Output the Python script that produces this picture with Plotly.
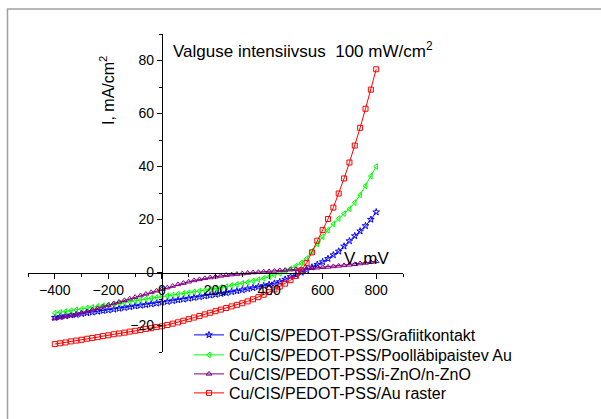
import plotly.graph_objects as go

# Bias voltage, mV (20 mV steps)
voltage = list(range(-400, 801, 20))

# Current density, mA/cm2
i_grafiit = [
    -17.0, -16.7, -16.4, -16.1, -15.9, -15.6, -15.3, -15.0, -14.7, -14.4,
    -14.2, -13.9, -13.6, -13.3, -13.0, -12.7, -12.4, -12.2, -11.9, -11.6,
    -11.3, -11.0, -10.7, -10.4, -10.1, -9.8, -9.5, -9.2, -8.9, -8.6,
    -8.3, -8.0, -7.7, -7.3, -7.0, -6.6, -6.2, -5.8, -5.4, -5.0,
    -4.6, -4.1, -3.5, -2.6, -1.6, -0.8, 0.0, 0.9, 2.0, 3.0,
    4.0, 5.2, 6.6, 8.0, 9.9, 11.9, 13.8, 15.6, 17.6, 20.0,
    22.8,
]
i_poollabi = [
    -15.3, -15.0, -14.7, -14.4, -14.1, -13.8, -13.4, -13.1, -12.8, -12.5,
    -12.2, -11.9, -11.6, -11.3, -11.0, -10.7, -10.4, -10.0, -9.7, -9.4,
    -9.1, -8.8, -8.5, -8.2, -7.9, -7.6, -7.3, -7.0, -6.7, -6.4,
    -6.0, -5.7, -5.3, -4.9, -4.5, -4.1, -3.7, -3.2, -2.7, -2.2,
    -1.6, -1.0, -0.3, 0.5, 1.4, 2.4, 3.6, 5.2, 8.0, 10.8,
    13.5, 16.0, 18.3, 20.4, 22.2, 24.0, 26.4, 29.3, 32.7, 36.4,
    40.0,
]
i_zno = [
    -17.4, -17.0, -16.6, -16.2, -15.7, -15.2, -14.7, -14.1, -13.5, -12.9,
    -12.3, -11.7, -11.1, -10.5, -9.9, -9.3, -8.7, -8.1, -7.5, -6.9,
    -6.3, -5.7, -5.1, -4.5, -4.0, -3.5, -3.0, -2.6, -2.2, -1.9,
    -1.6, -1.3, -1.0, -0.8, -0.6, -0.4, -0.2, 0.0, 0.1, 0.3,
    0.4, 0.6, 0.8, 0.9, 1.1, 1.2, 1.3, 1.5, 1.6, 1.8,
    2.0, 2.1, 2.3, 2.5, 2.7, 2.9, 3.1, 3.4, 3.6, 3.9,
    4.2,
]
i_raster = [
    -27.0, -26.7, -26.4, -26.0, -25.7, -25.4, -25.0, -24.7, -24.4, -24.0,
    -23.7, -23.3, -23.0, -22.7, -22.3, -22.0, -21.7, -21.3, -21.0, -20.6,
    -20.3, -19.8, -19.3, -18.8, -18.2, -17.6, -17.0, -16.4, -15.8, -15.2,
    -14.6, -14.0, -13.4, -12.8, -12.2, -11.6, -10.9, -10.1, -9.3, -8.4,
    -7.4, -6.4, -5.3, -4.2, -2.9, -1.3, 0.8, 3.6, 7.6, 12.0,
    16.0, 20.2, 24.5, 29.8, 35.5, 41.5, 47.9, 54.6, 61.8, 69.0,
    76.7,
]

series = [
    ("Cu/CIS/PEDOT-PSS/Grafiitkontakt", i_grafiit, "#0000FF", "star-open"),
    ("Cu/CIS/PEDOT-PSS/Poolläbipaistev Au", i_poollabi, "#00FF00", "triangle-left-open"),
    ("Cu/CIS/PEDOT-PSS/i-ZnO/n-ZnO", i_zno, "#800080", "triangle-up-open"),
    ("Cu/CIS/PEDOT-PSS/Au raster", i_raster, "#FF0000", "square-open"),
]

FONT = "Arial, Liberation Sans, sans-serif"
X_RANGE = [-500, 900]
Y_RANGE = [-30, 90]

# plot area in pixels
L, T, W, H = 28, 34, 375, 318
LEGEND_ROWS = [335, 355, 374, 393]


def px(x):
    return (x - L) / W


def py(y):
    return (T + H - y) / H


fig = go.Figure()
legends = {}
for k, (name, vals, color, symbol) in enumerate(series):
    lg = "legend" if k == 0 else f"legend{k + 1}"
    fig.add_trace(
        go.Scatter(
            x=voltage,
            y=vals,
            name=name,
            mode="lines+markers",
            line=dict(color=color, width=1),
            marker=dict(symbol=symbol, size=5, color=color, line=dict(color=color, width=1)),
            cliponaxis=False,
            legend=lg,
        )
    )
    # one legend per entry so the rows can sit as tight as in the original
    legends[lg] = dict(
        x=px(189),
        y=py(LEGEND_ROWS[k]),
        xanchor="left",
        yanchor="middle",
        bgcolor="rgba(0,0,0,0)",
        font=dict(size=16),
    )

# axes cross at the origin
x_pos = (0 - Y_RANGE[0]) / (Y_RANGE[1] - Y_RANGE[0])
y_pos = (0 - X_RANGE[0]) / (X_RANGE[1] - X_RANGE[0])

fig.update_layout(
    width=601,
    height=419,
    margin=dict(l=L, r=601 - L - W, t=T, b=419 - T - H, autoexpand=False),
    paper_bgcolor="white",
    plot_bgcolor="white",
    font=dict(family=FONT, size=14, color="black"),
    showlegend=True,
    **legends,
    xaxis=dict(
        range=X_RANGE,
        anchor="free",
        position=x_pos,
        showgrid=False,
        zeroline=False,
        showline=True,
        linecolor="black",
        linewidth=1.3,
        tickmode="linear",
        tick0=-400,
        dtick=200,
        ticks="outside",
        ticklen=5,
        tickcolor="black",
        minor=dict(tickmode="linear", tick0=-500, dtick=100, ticks="outside", ticklen=3, tickcolor="black"),
        tickfont=dict(size=14),
    ),
    yaxis=dict(
        range=Y_RANGE,
        anchor="free",
        position=y_pos,
        showgrid=False,
        zeroline=False,
        showline=True,
        linecolor="black",
        linewidth=1.3,
        tickmode="linear",
        tick0=-20,
        dtick=20,
        ticks="outside",
        ticklen=5,
        tickcolor="black",
        minor=dict(tickmode="linear", tick0=-30, dtick=10, ticks="outside", ticklen=3, tickcolor="black"),
        tickfont=dict(size=14),
    ),
)

# headline and axis names placed as free text, like the original
fig.add_annotation(
    text="Valguse intensiivsus  100 mW/cm<sup>2</sup>",
    xref="paper", yref="paper", x=px(171), y=py(50),
    xanchor="left", yanchor="middle", showarrow=False, font=dict(size=17),
)
fig.add_annotation(
    text="I, mA/cm<sup>2</sup>",
    xref="paper", yref="paper", x=px(107), y=py(91),
    xanchor="center", yanchor="middle", textangle=-90, showarrow=False, font=dict(size=16),
)
fig.add_annotation(
    text="V, mV",
    xref="paper", yref="paper", x=px(366), y=py(258),
    xanchor="center", yanchor="middle", showarrow=False, font=dict(size=17),
)

# grey frame (top and left edges visible in the original)
fig.add_shape(
    type="path",
    xref="paper", yref="paper",
    path=f"M {px(7.5)} {py(419)} L {px(7.5)} {py(9)} L {px(601)} {py(9)}",
    line=dict(color="#A0A0A0", width=1.5),
)

# page body has a default 8px margin; drop it so the figure sits at the window origin
fig.write_html(
    "out.html",
    config={"displayModeBar": False},
    post_script="document.body.style.margin='0';",
)
